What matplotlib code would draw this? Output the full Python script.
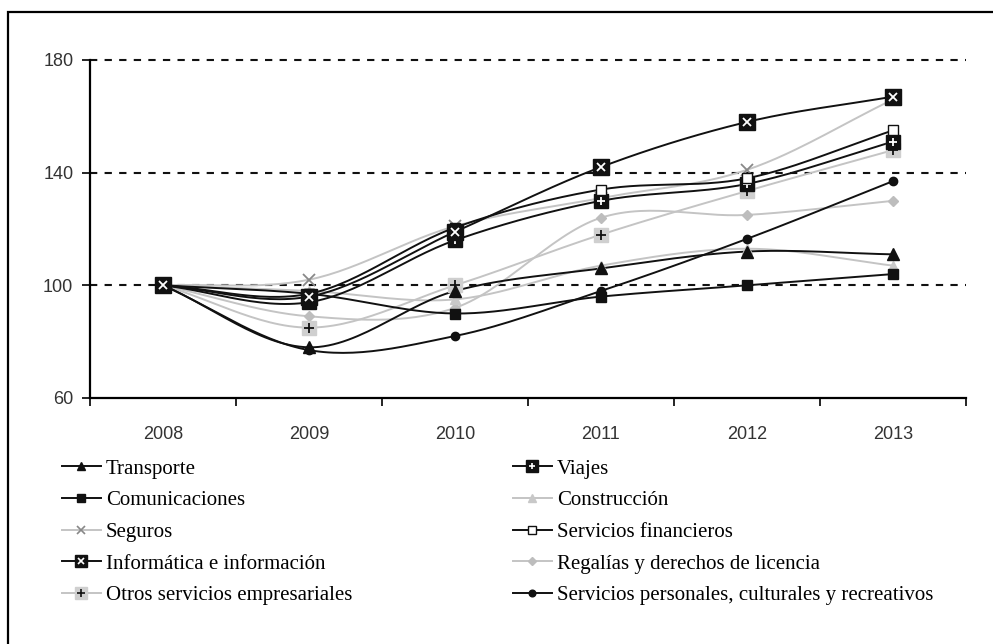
import numpy as np
import matplotlib
matplotlib.use("Agg")
import matplotlib.pyplot as plt
from matplotlib.lines import Line2D
from matplotlib.legend_handler import HandlerTuple
from matplotlib.patches import Rectangle

years = ["2008", "2009", "2010", "2011", "2012", "2013"]

transporte = [100, 78, 98, 106, 112, 111]
comunicaciones = [100, 97, 90, 96, 100, 104]
seguros = [100, 102, 121, 131, 141, 166]
informatica = [100, 96, 119, 142, 158, 167]
otros = [100, 85, 100, 118, 133.5, 148]
viajes = [100, 94, 116, 130, 136, 151]
construccion = [100, 98, 95, 107, 113, 107]
financieros = [100, 97, 120.5, 134, 138, 155]
regalias = [100, 89, 92, 124, 125, 130]
personales = [100, 77, 82, 98, 116.5, 137]

labels_col1 = ["Transporte", "Comunicaciones", "Seguros",
               "Informática e información", "Otros servicios empresariales"]
labels_col2 = ["Viajes", "Construcción", "Servicios financieros",
               "Regalías y derechos de licencia",
               "Servicios personales, culturales y recreativos"]

W, H = 993, 644
fig = plt.figure(figsize=(W / 100, H / 100), dpi=100)
fig.patch.set_facecolor("white")

# outer border (left and top visible)
fig.patches.append(Rectangle((8 / W, -0.1), 1.2, (H - 12) / H + 0.1,
                             transform=fig.transFigure, fill=False,
                             edgecolor="black", linewidth=1.6))

ax = fig.add_axes([90 / W, (H - 398) / H, (966 - 90) / W, (398 - 60) / H])

x = np.arange(len(years))


def smooth(xs, ys, n=30, t=0.5):
    xs = np.asarray(xs, float)
    ys = np.asarray(ys, float)
    px = np.concatenate([[2 * xs[0] - xs[1]], xs, [2 * xs[-1] - xs[-2]]])
    py = np.concatenate([[2 * ys[0] - ys[1]], ys, [2 * ys[-1] - ys[-2]]])
    ox, oy = [], []
    for i in range(1, len(px) - 2):
        for s in np.linspace(0, 1, n, endpoint=False):
            s2, s3 = s * s, s * s * s
            def cr(p):
                m1 = t * (p[i + 1] - p[i - 1])
                m2 = t * (p[i + 2] - p[i])
                return ((2 * s3 - 3 * s2 + 1) * p[i] + (s3 - 2 * s2 + s) * m1
                        + (-2 * s3 + 3 * s2) * p[i + 1] + (s3 - s2) * m2)
            ox.append(cr(px))
            oy.append(cr(py))
    ox.append(xs[-1])
    oy.append(ys[-1])
    return np.array(ox), np.array(oy)


BLACK = "#111111"
LG = "#c4c4c4"
LW = 1.4

series = [
    (regalias, LG, [("D", 5, "#bdbdbd", "#bdbdbd")]),
    (construccion, LG, [("^", 7, "#c8c8c8", "#c8c8c8")]),
    (seguros, LG, [("x", 8, "#888888", "#888888")]),
    (otros, LG, [("s", 10, "#cfcfcf", "#cfcfcf"), ("+", 7, BLACK, BLACK)]),
    (comunicaciones, BLACK, [("s", 7, BLACK, BLACK)]),
    (transporte, BLACK, [("^", 8, BLACK, BLACK)]),
    (personales, BLACK, [("o", 6, BLACK, BLACK)]),
    (viajes, BLACK, [("s", 10, BLACK, BLACK), ("+", 6, "white", "white")]),
    (financieros, BLACK, [("s", 7, "white", BLACK)]),
    (informatica, BLACK, [("s", 11, BLACK, BLACK), ("x", 6, "white", "white")]),
]

for data, col, mks in series:
    sx, sy = smooth(x, data)
    ax.plot(sx, sy, color=col, linewidth=LW, zorder=3)
    for m, ms, fc, ec in mks:
        ax.plot(x, data, linestyle="none", marker=m, markersize=ms,
                markerfacecolor=fc, markeredgecolor=ec,
                markeredgewidth=1.3 if m in ("x", "+") else 1.0, zorder=4)

ax.set_xlim(-0.5, 5.5)
ax.set_ylim(60, 180)
ax.set_yticks([60, 100, 140, 180])
ax.set_xticks(x)
ax.set_xticklabels(years)
ax.set_xticks(np.arange(-0.5, 6.0, 1.0), minor=True)
ax.tick_params(axis="x", which="major", length=0, pad=20,
               labelsize=13, labelcolor="#333333")
ax.tick_params(axis="x", which="minor", length=6, width=1.2, direction="out")
ax.tick_params(axis="y", length=6, width=1.2, direction="out", pad=6,
               labelsize=13, labelcolor="#333333")
for lab in ax.get_xticklabels() + ax.get_yticklabels():
    lab.set_fontfamily("Liberation Sans")

for yv in [100, 140, 180]:
    ax.axhline(yv, color=BLACK, linewidth=1.5, linestyle=(0, (3.5, 3.5)),
               zorder=1, clip_on=False)

ax.spines["top"].set_visible(False)
ax.spines["right"].set_visible(False)
ax.spines["left"].set_linewidth(1.6)
ax.spines["bottom"].set_linewidth(1.6)


def handle(col, mks):
    hs = [Line2D([], [], color=col, linewidth=LW)]
    for m, ms, fc, ec in mks:
        hs.append(Line2D([], [], linestyle="none", marker=m, markersize=ms * 0.8,
                         markerfacecolor=fc, markeredgecolor=ec,
                         markeredgewidth=1.2 if m in ("x", "+") else 1.0))
    return tuple(hs)

h = {
    "Transporte": handle(BLACK, [("^", 8, BLACK, BLACK)]),
    "Comunicaciones": handle(BLACK, [("s", 7, BLACK, BLACK)]),
    "Seguros": handle(LG, [("x", 8, "#888888", "#888888")]),
    "Informática e información": handle(BLACK, [("s", 11, BLACK, BLACK), ("x", 6, "white", "white")]),
    "Otros servicios empresariales": handle(LG, [("s", 10, "#cfcfcf", "#cfcfcf"), ("+", 7, BLACK, BLACK)]),
    "Viajes": handle(BLACK, [("s", 10, BLACK, BLACK), ("+", 6, "white", "white")]),
    "Construcción": handle(LG, [("^", 7, "#c8c8c8", "#c8c8c8")]),
    "Servicios financieros": handle(BLACK, [("s", 7, "white", BLACK)]),
    "Regalías y derechos de licencia": handle(LG, [("D", 5, "#bdbdbd", "#bdbdbd")]),
    "Servicios personales, culturales y recreativos": handle(BLACK, [("o", 6, BLACK, BLACK)]),
}

common = dict(frameon=False, handlelength=1.85, handletextpad=0.25,
              labelspacing=0.58, borderpad=0, borderaxespad=0,
              handler_map={tuple: HandlerTuple(ndivide=1, pad=0)},
              prop={"family": "Liberation Serif", "size": 15})

for labs, xl in [(labels_col1, 62), (labels_col2, 513)]:
    handles = [h[l] for l in labs]
    fig.legend(handles, labs, loc="upper left",
               bbox_to_anchor=(xl / W, 1 - 459 / H), **common)

fig.savefig("out.png", dpi=100, facecolor="white")
